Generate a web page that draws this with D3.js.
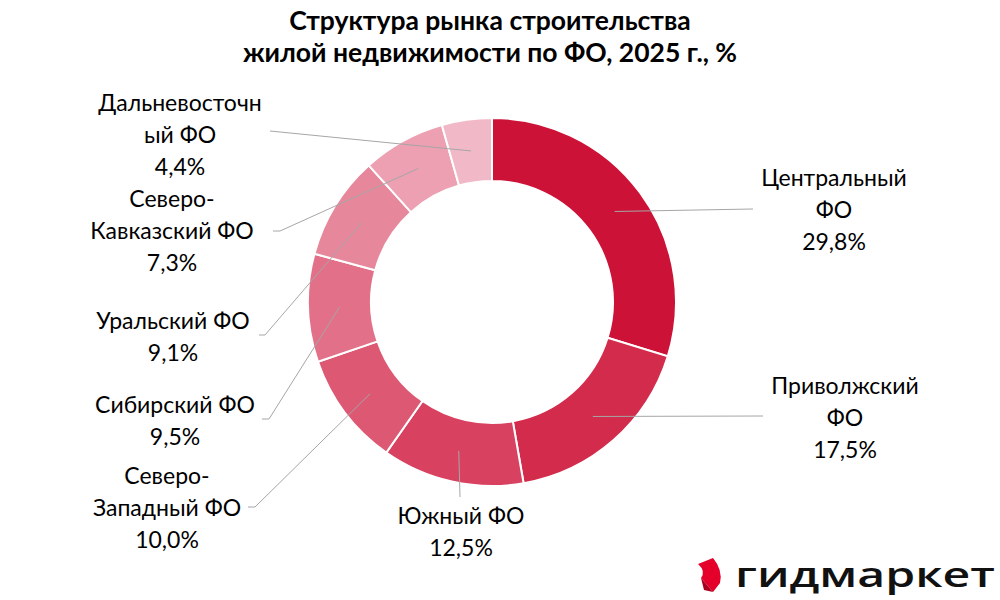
<!DOCTYPE html>
<html><head><meta charset="utf-8">
<script src="https://cdn.jsdelivr.net/npm/d3@7/dist/d3.min.js"></script>
<style>body{margin:0;background:#fff}svg{display:block}</style>
</head><body>
<svg id="c" width="1000" height="600"></svg>
<script>
// ---- data ----
const titleLines = ["Структура рынка строительства", "жилой недвижимости по ФО, 2025 г., %"];
const categories = ["Центральный ФО","Приволжский ФО","Южный ФО","Северо-Западный ФО","Сибирский ФО","Уральский ФО","Северо-Кавказский ФО","Дальневосточный ФО"];
const values = [29.8, 17.5, 12.5, 10.0, 9.5, 9.1, 7.3, 4.4];
const labelLines = [
  ["Центральный","ФО"],
  ["Приволжский","ФО"],
  ["Южный ФО"],
  ["Северо-","Западный ФО"],
  ["Сибирский ФО"],
  ["Уральский ФО"],
  ["Северо-","Кавказский ФО"],
  ["Дальневосточн","ый ФО"]
];
const colors = ["#cc1236","#d22b4b","#d84160","#dd5873","#e27088","#e6879b","#eca0b1","#f1b9c7"];

// ---- layout (label anchors; not data) ----
const layout = [
  {x:834, y:186, end:[753,209], elbow:null},
  {x:845, y:394, end:[763,416], elbow:null},
  {x:461, y:524, end:[460,497], elbow:null},
  {x:167, y:484, end:[248,507], elbow:[255,507]},
  {x:175, y:413, end:[262,419], elbow:[269,419]},
  {x:173, y:329, end:[259,335], elbow:[265,335]},
  {x:172, y:207, end:[273,231], elbow:[280,231]},
  {x:180, y:111, end:[270,131], elbow:null}
];

const svg = d3.select("#c");
const font = "Lato, 'Open Sans', sans-serif";
const cx = 492, cy = 302, rOut = 184, rIn = 121;

// title
svg.append("g").selectAll("text").data(titleLines).join("text")
  .attr("x", 490).attr("y", (d,i)=>30 + i*32)
  .attr("text-anchor","middle")
  .style("font-family", font).style("font-weight","700").style("font-size","26.5px")
  .attr("fill","#000").text(d=>d);

const pie = d3.pie().sort(null).value(d=>d)(values);
const arc = d3.arc().innerRadius(rIn).outerRadius(rOut);
const mid = d3.arc().innerRadius((rIn+rOut)/2).outerRadius((rIn+rOut)/2);

const g = svg.append("g").attr("transform",`translate(${cx},${cy})`);
g.selectAll("path").data(pie).join("path")
  .attr("d", arc).attr("fill",(d,i)=>colors[i])
  .attr("stroke","#fff").attr("stroke-width",2);

// leader lines
const lines = svg.append("g");
pie.forEach((d,i)=>{
  const c = mid.centroid(d);
  const p0 = [cx + c[0], cy + c[1]];
  const L = layout[i];
  const pts = [p0];
  if (L.elbow) pts.push(L.elbow);
  pts.push(L.end);
  lines.append("path").attr("d", d3.line()(pts))
    .attr("fill","none").attr("stroke","#a6a6a6").attr("stroke-width",1);
});

// labels
const fmt = v => v.toFixed(1).replace(".", ",") + "%";
const lbl = svg.append("g");
values.forEach((v,i)=>{
  const L = layout[i];
  const rows = labelLines[i].concat([fmt(v)]);
  const t = lbl.append("text").attr("text-anchor","middle")
    .style("font-family", font).style("font-size","23px").attr("fill","#000");
  rows.forEach((r,k)=>{
    t.append("tspan").attr("x", L.x).attr("y", L.y + k*32).text(r);
  });
});

// logo
const logo = svg.append("g");
logo.append("path")
  .attr("d","M698,564 L713,558 Q723,570 720,583 L713,592 L701,578 Q706,571 698,564 Z")
  .attr("fill","#e4002b");
logo.append("path")
  .attr("d","M701,578 L713,592 L704,590 Z")
  .attr("fill","#a8001e");
logo.append("text").attr("x",735).attr("y",587)
  .attr("textLength",260).attr("lengthAdjust","spacingAndGlyphs")
  .style("font-family","'Open Sans', sans-serif").style("font-weight","600").style("font-size","34px")
  .attr("fill","#111").text("гидмаркет");
</script>
</body></html>
